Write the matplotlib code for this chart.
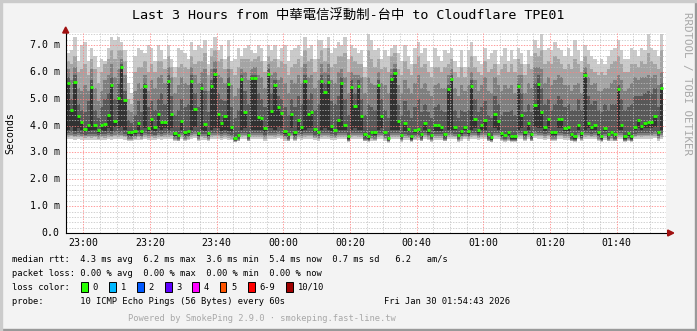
import matplotlib
matplotlib.use('Agg')
import matplotlib.pyplot as plt
import numpy as np
from matplotlib.patches import Rectangle, Polygon

# ---------------- data (ms, one value per 60 s step) ----------------
median_ms = [5.60,4.57,5.62,4.34,4.13,3.86,4.01,5.45,4.01,3.83,4.01,4.06,4.39,5.53,4.18,5.03,6.19,4.94,3.75,3.75,3.81,4.08,3.81,5.47,3.92,4.24,3.94,4.45,4.13,4.13,
             5.67,4.45,3.72,3.66,4.16,3.75,3.81,5.65,4.62,3.72,5.40,4.06,3.72,5.47,5.93,4.42,4.08,4.35,5.55,3.94,3.55,3.66,5.73,4.50,3.66,5.77,5.77,4.32,4.30,3.91,
             5.93,4.55,5.52,4.69,4.47,3.81,3.67,4.42,3.76,4.20,3.93,5.65,4.42,4.49,3.88,3.78,5.65,5.24,5.62,3.97,3.85,4.22,5.60,4.01,3.61,5.45,4.72,5.47,4.37,3.67,
             3.62,3.78,3.75,5.50,4.35,3.78,3.55,5.72,5.95,4.18,3.66,4.09,3.88,3.61,3.82,3.86,3.68,4.09,3.83,3.66,4.03,4.03,3.96,3.68,5.35,5.75,3.96,3.66,3.80,3.96,
             3.81,5.47,4.25,3.85,4.03,4.20,3.68,3.58,4.43,4.16,3.72,3.66,3.76,3.60,3.60,5.47,4.39,3.75,4.08,3.68,4.75,5.55,4.52,3.93,4.25,3.76,3.76,4.25,4.25,3.91,
             3.94,3.68,3.60,4.01,3.71,5.87,4.08,3.96,4.03,3.76,3.60,3.91,3.68,3.78,3.68,5.35,4.03,3.60,3.73,3.61,3.96,4.22,4.00,4.08,4.13,4.13,4.35,3.78,5.40]

# sorted ping ranks: p10 = slowest, p1 = fastest (p6 is the median)
p10_ms = [6.7,6.8,7.3,6.4,7.0,7.1,6.4,6.9,6.6,6.2,6.5,6.4,6.9,7.3,7.2,7.3,7.1,6.8,5.6,5.2,6.6,6.9,6.8,6.7,7.0,6.9,6.4,7.0,6.8,6.5,
          7.0,6.5,6.2,6.9,6.8,6.7,6.5,7.1,6.8,7.0,6.9,7.2,6.3,6.9,7.3,6.8,7.0,6.5,7.2,6.4,6.5,6.9,6.6,6.9,7.0,6.8,6.7,7.0,6.9,6.4,
          7.0,6.8,7.0,6.5,6.9,7.0,6.4,6.8,6.9,7.0,6.6,7.3,6.9,7.0,6.5,7.2,7.2,6.9,7.3,6.7,6.9,7.1,7.0,7.3,6.5,7.0,6.9,6.7,6.8,6.2,
          7.4,7.2,6.8,6.9,6.5,6.8,6.6,6.9,7.0,6.7,6.4,7.0,6.6,6.3,6.9,7.1,6.7,6.9,6.4,6.2,6.9,6.6,6.4,6.8,6.7,6.9,6.4,6.2,6.8,6.2,
          6.8,7.1,6.6,6.4,6.3,6.9,6.5,6.7,6.8,6.3,6.6,6.9,6.4,6.8,6.5,6.9,6.7,6.3,6.8,6.6,7.2,6.9,7.4,6.8,6.9,6.8,7.1,6.9,6.8,6.6,
          6.9,6.6,7.2,6.8,6.4,7.0,6.8,6.6,6.5,6.3,6.5,6.3,6.6,6.8,6.9,7.2,6.8,6.5,6.5,6.9,6.8,6.6,6.9,6.8,7.4,6.9,6.8,6.6,7.4]
p9_ms = [6.4,6.3,6.6,6.0,6.1,6.3,5.9,6.5,6.1,5.6,6.0,6.3,6.5,6.8,6.5,6.8,6.8,6.4,5.0,4.8,6.0,6.2,6.2,6.4,6.0,6.3,6.0,6.4,6.4,6.1,
         6.6,6.2,5.8,6.2,6.3,6.2,6.1,6.6,6.3,6.4,6.4,6.7,5.9,6.6,6.8,6.4,6.5,6.1,6.6,6.1,5.9,6.2,6.5,6.5,6.5,6.4,6.5,6.6,6.4,6.0,
         6.6,6.4,6.5,6.2,6.4,6.3,5.9,6.2,6.3,6.5,6.2,6.8,6.4,6.5,6.0,6.5,6.8,6.4,6.9,6.2,6.3,6.6,6.6,6.7,6.0,6.6,6.4,6.3,6.3,5.8,
         6.8,6.5,6.2,6.5,6.1,6.2,6.0,6.6,6.7,6.1,5.9,6.4,6.1,5.9,6.3,6.6,6.2,6.3,6.0,5.8,6.2,6.2,6.0,6.2,6.3,6.5,6.0,5.8,6.2,5.8,
         6.2,6.6,6.2,6.0,5.9,6.4,6.0,6.1,6.3,5.9,6.1,6.3,6.0,6.3,6.0,6.5,6.3,5.9,6.3,6.1,6.7,6.6,6.8,6.3,6.4,6.3,6.6,6.5,6.3,6.1,
         6.3,6.1,6.5,6.3,6.0,6.6,6.3,6.1,6.0,5.9,6.0,5.9,6.1,6.3,6.4,6.6,6.3,6.0,6.0,6.3,6.3,6.2,6.4,6.3,6.7,6.4,6.3,6.1,6.8]
p8_ms = [6.1,5.7,6.2,5.4,5.3,5.5,5.3,6.1,5.4,4.9,5.3,5.7,5.9,6.3,5.8,6.1,6.5,5.9,4.6,4.5,5.3,5.6,5.4,5.9,5.3,5.7,5.4,5.8,5.9,5.6,
         6.2,5.8,5.2,5.5,5.8,5.6,5.5,6.2,5.9,5.6,6.0,6.1,5.3,6.1,6.4,5.9,5.8,5.6,6.1,5.5,5.1,5.4,6.1,6.0,5.7,6.1,6.2,5.9,5.8,5.4,
         6.3,5.9,6.0,5.7,5.8,5.6,5.2,5.7,5.6,5.9,5.6,6.3,5.8,5.9,5.4,5.7,6.3,6.0,6.3,5.7,5.6,6.0,6.1,5.8,5.2,6.0,5.9,5.9,5.8,5.2,
         5.8,5.6,5.5,6.0,5.6,5.5,5.2,6.1,6.3,5.5,5.2,5.7,5.4,5.2,5.6,5.9,5.4,5.6,5.3,5.1,5.5,5.6,5.4,5.4,5.9,6.1,5.4,5.1,5.5,5.3,
         5.5,6.0,5.7,5.3,5.5,5.8,5.3,5.2,5.8,5.5,5.3,5.5,5.4,5.5,5.2,5.9,5.9,5.2,5.6,5.4,6.2,6.2,6.1,5.6,5.8,5.5,5.7,5.9,5.8,5.5,
         5.5,5.3,5.5,5.6,5.2,6.2,5.8,5.5,5.6,5.3,5.3,5.4,5.4,5.6,5.7,5.9,5.7,5.3,5.4,5.6,5.8,5.7,5.8,5.8,5.9,5.8,5.9,5.5,6.0]
p7_ms = [5.8,5.0,5.9,4.8,4.6,4.5,4.9,5.7,4.6,4.3,4.7,5.0,5.2,5.8,5.0,5.6,6.3,5.3,4.2,4.1,4.4,4.9,4.5,5.6,4.7,4.9,4.6,5.0,5.2,4.8,
         5.9,5.1,4.4,4.6,5.0,4.7,4.8,5.9,5.2,4.7,5.6,5.3,4.5,5.7,6.1,5.2,5.0,4.9,5.8,4.7,4.3,4.6,5.9,5.3,4.8,5.9,5.9,5.2,5.0,4.7,
         6.1,5.2,5.7,5.1,5.0,4.7,4.4,5.0,4.7,5.1,4.8,5.9,5.0,5.2,4.6,4.8,5.9,5.6,5.9,4.9,4.8,5.1,5.8,5.0,4.4,5.7,5.2,5.7,5.0,4.4,
         4.8,4.7,4.6,5.7,5.0,4.6,4.3,5.9,6.1,4.8,4.4,4.9,4.6,4.3,4.7,5.0,4.5,4.8,4.5,4.3,4.7,4.8,4.6,4.5,5.5,5.9,4.6,4.3,4.6,4.5,
         4.6,5.7,5.0,4.5,4.7,4.9,4.4,4.3,5.1,4.8,4.4,4.5,4.5,4.6,4.4,5.6,5.2,4.5,4.8,4.5,5.6,5.9,5.4,4.8,5.0,4.6,4.8,5.1,5.0,4.7,
         4.8,4.6,4.6,5.0,4.6,6.0,5.1,4.8,4.9,4.6,4.5,4.8,4.6,4.8,4.8,5.5,5.0,4.6,4.7,4.8,5.1,5.1,5.1,5.2,5.3,5.2,5.4,4.7,5.6]
p5_ms = [3.85,3.95,3.80,3.90,3.85,3.75,3.80,3.85,3.82,3.72,3.85,3.80,3.90,3.80,3.95,3.90,3.95,3.85,3.65,3.62,3.70,3.85,3.70,3.90,3.80,3.85,3.80,3.90,3.85,3.90,
         3.85,3.90,3.62,3.58,3.85,3.65,3.70,3.85,3.95,3.62,3.85,3.80,3.62,3.85,3.90,3.90,3.80,3.85,3.80,3.78,3.48,3.58,3.85,3.90,3.58,3.85,3.85,3.85,3.85,3.75,
         3.90,3.90,3.85,3.95,3.90,3.70,3.58,3.90,3.66,3.85,3.80,3.85,3.90,3.90,3.75,3.68,3.85,3.90,3.85,3.80,3.75,3.85,3.85,3.85,3.52,3.85,3.90,3.85,3.85,3.58,
         3.52,3.68,3.65,3.85,3.90,3.68,3.47,3.85,3.85,3.85,3.56,3.80,3.75,3.52,3.72,3.75,3.58,3.85,3.72,3.56,3.80,3.80,3.80,3.58,3.85,3.85,3.82,3.56,3.70,3.82,
         3.70,3.85,3.90,3.74,3.85,3.85,3.58,3.48,3.90,3.85,3.62,3.56,3.66,3.50,3.50,3.85,3.90,3.65,3.85,3.58,3.95,3.90,3.90,3.80,3.90,3.66,3.66,3.90,3.90,3.80,
         3.80,3.58,3.50,3.85,3.60,3.85,3.90,3.82,3.85,3.66,3.50,3.80,3.58,3.68,3.58,3.85,3.85,3.50,3.62,3.52,3.82,3.90,3.85,3.90,3.90,3.90,3.95,3.68,3.85]
p4_ms = [3.72,3.75,3.70,3.72,3.70,3.66,3.68,3.70,3.70,3.65,3.70,3.68,3.72,3.70,3.75,3.72,3.75,3.70,3.58,3.56,3.62,3.70,3.62,3.72,3.68,3.70,3.66,3.72,3.70,3.72,
         3.72,3.75,3.56,3.52,3.72,3.58,3.62,3.72,3.76,3.56,3.70,3.68,3.56,3.72,3.74,3.74,3.68,3.72,3.68,3.66,3.44,3.52,3.72,3.74,3.52,3.72,3.72,3.72,3.72,3.64,
         3.74,3.74,3.72,3.76,3.74,3.62,3.52,3.74,3.58,3.72,3.68,3.72,3.74,3.74,3.66,3.60,3.72,3.74,3.72,3.68,3.66,3.72,3.72,3.72,3.47,3.72,3.74,3.72,3.72,3.52,
         3.47,3.60,3.58,3.72,3.74,3.60,3.44,3.72,3.72,3.72,3.50,3.68,3.66,3.47,3.64,3.66,3.52,3.72,3.64,3.50,3.68,3.68,3.68,3.52,3.72,3.72,3.70,3.50,3.62,3.70,
         3.62,3.72,3.74,3.66,3.72,3.72,3.52,3.45,3.74,3.72,3.56,3.50,3.58,3.46,3.46,3.72,3.74,3.58,3.72,3.52,3.76,3.74,3.74,3.68,3.74,3.58,3.58,3.74,3.74,3.68,
         3.68,3.52,3.46,3.72,3.54,3.72,3.74,3.70,3.72,3.58,3.46,3.68,3.52,3.60,3.52,3.72,3.72,3.46,3.55,3.48,3.70,3.74,3.72,3.74,3.74,3.74,3.76,3.60,3.72]
p3_ms = [3.64,3.66,3.62,3.64,3.62,3.60,3.62,3.62,3.62,3.58,3.62,3.60,3.64,3.62,3.66,3.64,3.66,3.62,3.52,3.50,3.56,3.62,3.56,3.64,3.60,3.62,3.60,3.64,3.62,3.64,
         3.64,3.66,3.50,3.48,3.64,3.52,3.56,3.64,3.68,3.50,3.62,3.60,3.50,3.64,3.66,3.66,3.60,3.64,3.60,3.58,3.42,3.48,3.64,3.66,3.48,3.64,3.64,3.64,3.64,3.57,
         3.66,3.66,3.64,3.68,3.66,3.56,3.48,3.66,3.52,3.64,3.61,3.64,3.66,3.66,3.59,3.54,3.64,3.66,3.64,3.61,3.59,3.64,3.64,3.64,3.44,3.64,3.66,3.64,3.64,3.48,
         3.44,3.54,3.52,3.64,3.66,3.54,3.41,3.64,3.64,3.64,3.46,3.61,3.59,3.44,3.57,3.59,3.48,3.64,3.57,3.46,3.61,3.61,3.61,3.48,3.64,3.64,3.62,3.46,3.56,3.62,
         3.56,3.64,3.66,3.59,3.64,3.64,3.48,3.42,3.66,3.64,3.50,3.46,3.52,3.43,3.43,3.64,3.66,3.52,3.64,3.48,3.68,3.66,3.66,3.61,3.66,3.52,3.52,3.66,3.66,3.61,
         3.61,3.48,3.43,3.64,3.49,3.64,3.66,3.62,3.64,3.52,3.43,3.61,3.48,3.54,3.48,3.64,3.64,3.43,3.50,3.44,3.62,3.66,3.64,3.66,3.66,3.66,3.68,3.54,3.64]
p2_ms = [3.57,3.60,3.56,3.58,3.56,3.54,3.56,3.55,3.56,3.52,3.56,3.55,3.58,3.56,3.60,3.58,3.60,3.56,3.48,3.46,3.50,3.56,3.50,3.58,3.54,3.56,3.54,3.58,3.56,3.58,
         3.58,3.60,3.46,3.44,3.58,3.48,3.50,3.58,3.61,3.46,3.56,3.54,3.46,3.58,3.60,3.60,3.54,3.58,3.54,3.52,3.40,3.44,3.58,3.60,3.44,3.58,3.58,3.58,3.58,3.51,
         3.60,3.60,3.58,3.62,3.60,3.50,3.44,3.60,3.48,3.58,3.55,3.58,3.60,3.60,3.53,3.49,3.58,3.60,3.58,3.55,3.53,3.58,3.58,3.58,3.41,3.58,3.60,3.58,3.58,3.44,
         3.41,3.49,3.47,3.58,3.60,3.49,3.39,3.58,3.58,3.58,3.43,3.55,3.53,3.41,3.51,3.53,3.44,3.58,3.51,3.43,3.55,3.55,3.55,3.44,3.58,3.58,3.56,3.43,3.50,3.56,
         3.50,3.58,3.60,3.53,3.58,3.58,3.44,3.40,3.60,3.58,3.46,3.43,3.47,3.41,3.41,3.58,3.60,3.47,3.58,3.44,3.62,3.60,3.60,3.55,3.60,3.47,3.47,3.60,3.60,3.55,
         3.55,3.44,3.41,3.58,3.45,3.58,3.60,3.56,3.58,3.47,3.41,3.55,3.44,3.49,3.44,3.58,3.58,3.41,3.46,3.42,3.56,3.60,3.58,3.60,3.60,3.60,3.62,3.49,3.58]
p1_ms = [3.50,3.52,3.48,3.50,3.48,3.46,3.48,3.47,3.48,3.45,3.48,3.47,3.50,3.48,3.52,3.50,3.52,3.48,3.43,3.42,3.45,3.48,3.45,3.50,3.46,3.48,3.46,3.50,3.48,3.50,
         3.50,3.52,3.42,3.41,3.50,3.43,3.45,3.50,3.53,3.42,3.48,3.47,3.42,3.50,3.52,3.52,3.47,3.50,3.47,3.45,3.38,3.41,3.50,3.52,3.41,3.50,3.50,3.50,3.50,3.44,
         3.52,3.52,3.50,3.54,3.52,3.44,3.41,3.52,3.43,3.50,3.48,3.50,3.52,3.52,3.46,3.44,3.50,3.52,3.50,3.48,3.46,3.50,3.50,3.50,3.39,3.50,3.52,3.50,3.50,3.41,
         3.39,3.44,3.43,3.50,3.52,3.44,3.37,3.50,3.50,3.50,3.40,3.48,3.46,3.39,3.45,3.46,3.41,3.50,3.45,3.40,3.48,3.48,3.48,3.41,3.50,3.50,3.49,3.40,3.44,3.49,
         3.44,3.50,3.52,3.46,3.50,3.50,3.41,3.38,3.52,3.50,3.42,3.40,3.43,3.39,3.39,3.50,3.52,3.43,3.50,3.41,3.54,3.52,3.52,3.48,3.52,3.43,3.43,3.52,3.52,3.48,
         3.48,3.41,3.39,3.50,3.42,3.50,3.52,3.49,3.50,3.43,3.39,3.48,3.41,3.44,3.41,3.50,3.50,3.39,3.42,3.40,3.49,3.52,3.50,3.52,3.52,3.52,3.54,3.44,3.50]

start_min = 54 + 43 / 60.0    # 22:54:43, minutes after 22:00
first_step = 55               # first 60 s step starts at 22:55
tick_minutes = [60, 80, 100, 120, 140, 160, 180, 200, 220]
tick_labels = ['23:00', '23:20', '23:40', '00:00', '00:20', '00:40', '01:00', '01:20', '01:40']
y_ticks = [0, 1, 2, 3, 4, 5, 6, 7]
y_labels = ['0.0', '1.0 m', '2.0 m', '3.0 m', '4.0 m', '5.0 m', '6.0 m', '7.0 m']

loss_labels = ['0', '1', '2', '3', '4', '5', '6-9', '10/10']
loss_colors = ['#26ff00', '#00b8ff', '#0059ff', '#5e00ff', '#ff00ff', '#ff5500', '#ff0000', '#a00000']
smoke_colors = ['#cacaca', '#a4a4a4', '#7e7e7e', '#585858', '#323232']

ranks = [p1_ms, p2_ms, p3_ms, p4_ms, p5_ms, median_ms, p7_ms, p8_ms, p9_ms, p10_ms]
n = min(len(r) for r in ranks)
pings = np.sort(np.array([r[:n] for r in ranks]), axis=0)
med = np.array(median_ms[:n])

# ---------------- figure ----------------
W, H = 697, 331
fig = plt.figure(figsize=(W / 100, H / 100), dpi=100)
fig.patch.set_facecolor('#f3f3f3')

L, R, B, T = 65.7, 665.7, 233.0, 33.0
YMAX = 7.45
ax = fig.add_axes([L / W, 1 - B / H, (R - L) / W, (B - T) / H])
ax.set_facecolor('white')
ax.set_xlim(start_min, start_min + 180)
ax.set_ylim(0, YMAX)
for s in ax.spines.values():
    s.set_visible(False)
ax.set_xticks([]); ax.set_yticks([])

xs = first_step + np.arange(n)
for i in range(5):
    lo = pings[i]
    hi = pings[9 - i]
    ax.bar(xs, hi - lo, bottom=lo, width=1.0, align='edge', color=smoke_colors[i],
           linewidth=0, zorder=2)

ax.hlines(med, xs, xs + 1, colors=loss_colors[0], linewidth=2.0, zorder=5)

# grid
dot = (0, (1.4, 1.4))
for k in range(1, int(YMAX / 0.2) + 1):
    if k % 5 == 0:
        continue
    ax.axhline(k * 0.2, color='#c0c0c0', lw=0.7, ls=dot, zorder=3, alpha=0.75)
for xm in range(60, 235, 5):
    if xm % 20 == 0:
        continue
    ax.axvline(xm, color='#c0c0c0', lw=0.7, ls=dot, zorder=3, alpha=0.75)
for yv in y_ticks[1:]:
    ax.axhline(yv, color='#ff8080', lw=0.7, ls=dot, zorder=3, alpha=0.8)
for xm in tick_minutes:
    ax.axvline(xm, color='#ff8080', lw=0.7, ls=dot, zorder=3, alpha=0.8)

# axes lines
ax.plot([start_min, start_min], [0, YMAX], color='black', lw=0.8, zorder=6, clip_on=False)
ax.plot([start_min, start_min + 181], [0, 0], color='black', lw=0.8, zorder=6, clip_on=False)

def px(x, y):
    return (x / W, 1 - y / H)

fig.patches.append(Polygon([px(L - 3, 33), px(L + 3, 33), px(L, 27)], closed=True,
                           transform=fig.transFigure, color='#a01010'))
fig.patches.append(Polygon([px(R + 2, 230), px(R + 2, 236), px(R + 8, 233)], closed=True,
                           transform=fig.transFigure, color='#a01010'))

mono = ['DejaVu Sans Mono', 'Noto Sans CJK TC']
for yv, lab in zip(y_ticks, y_labels):
    ypix = B - yv * (B - T) / YMAX
    fig.text(59.8 / W, 1 - ypix / H, lab, ha='right', va='center', family=mono, fontsize=7.1)
for xm, lab in zip(tick_minutes, tick_labels):
    xpix = L + (xm - start_min) * (R - L) / 180
    fig.text(xpix / W, 1 - 243.3 / H, lab, ha='center', va='center', family=mono, fontsize=7.1)

fig.text(10.5 / W, 1 - 133 / H, 'Seconds', rotation=90, ha='center', va='center', family=mono, fontsize=7.1)
fig.text(348 / W, 1 - 15.5 / H, 'Last 3 Hours from 中華電信浮動制-台中 to Cloudflare TPE01',
         ha='center', va='center', family=mono, fontsize=9.6)
fig.text(687 / W, 1 - 83 / H, 'RRDTOOL / TOBI OETIKER', rotation=-90, ha='center', va='center',
         family=mono, fontsize=7.8, color='#a8a8a8')

lf = 6.3
fig.text(12.3 / W, 1 - 259.3 / H,
         'median rtt:  4.3 ms avg  6.2 ms max  3.6 ms min  5.4 ms now  0.7 ms sd   6.2   am/s',
         ha='left', va='center', family=mono, fontsize=lf)
fig.text(12.3 / W, 1 - 273.3 / H, 'packet loss: 0.00 % avg  0.00 % max  0.00 % min  0.00 % now',
         ha='left', va='center', family=mono, fontsize=lf)
fig.text(12.3 / W, 1 - 287.0 / H, 'loss color:', ha='left', va='center', family=mono, fontsize=lf)
box_x = [81, 109, 137, 165, 192, 220, 248, 286]
for bx, lab, c in zip(box_x, loss_labels, loss_colors):
    fig.patches.append(Rectangle(px(bx, 292), 6.5 / W, 10 / H, transform=fig.transFigure,
                                 facecolor=c, edgecolor='black', linewidth=0.7))
    fig.text((bx + 11.5) / W, 1 - 287.0 / H, lab, ha='left', va='center', family=mono, fontsize=lf)
fig.text(12.3 / W, 1 - 301.3 / H, 'probe:       10 ICMP Echo Pings (56 Bytes) every 60s',
         ha='left', va='center', family=mono, fontsize=lf)
fig.text(510 / W, 1 - 301.3 / H, 'Fri Jan 30 01:54:43 2026', ha='right', va='center', family=mono, fontsize=lf)
fig.text(127.7 / W, 1 - 318.3 / H, 'Powered by SmokePing 2.9.0 · smokeping.fast-line.tw',
         ha='left', va='center', family=mono, fontsize=lf, color='#a8a8a8')

# frame
fig.patches.append(Rectangle((0, 0), 1, 2 / H, transform=fig.transFigure, color='#999999'))
fig.patches.append(Rectangle((1 - 2 / W, 0), 2 / W, 1, transform=fig.transFigure, color='#999999'))
fig.patches.append(Rectangle((0, 1 - 2 / H), 1, 2 / H, transform=fig.transFigure, color='#cbcbcb'))
fig.patches.append(Rectangle((0, 0), 2 / W, 1, transform=fig.transFigure, color='#cbcbcb'))

fig.savefig('out.png', dpi=100, facecolor=fig.get_facecolor())
